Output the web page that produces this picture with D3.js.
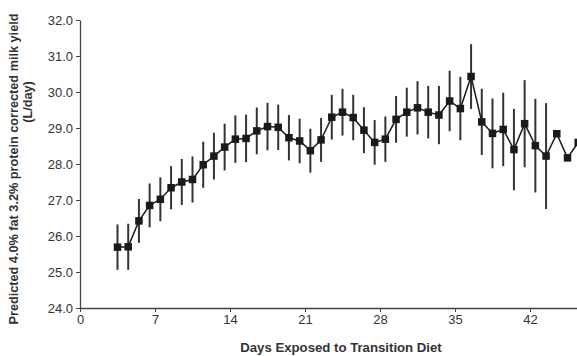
<!DOCTYPE html>
<html>
<head>
<meta charset="utf-8">
<script src="https://cdn.jsdelivr.net/npm/d3@7"></script>
<style>
  body { margin: 0; background: #fff; }
  svg { display: block; font-family: "Liberation Sans", Arial, sans-serif; }
</style>
</head>
<body>
<svg id="chart" width="577" height="356"></svg>
<script>
// day of exposure (each point sits in the middle of its day)
var days = [3,4,5,6,7,8,9,10,11,12,13,14,15,16,17,18,19,20,21,22,23,24,25,26,27,28,29,30,31,32,33,34,35,36,37,38,39,40,41,42,43,44,45,46]
// predicted FPCM yield, L/day
var yieldMeans = [25.69,25.70,26.42,26.85,27.02,27.34,27.50,27.57,27.98,28.22,28.47,28.69,28.71,28.92,29.04,29.02,28.73,28.64,28.37,28.67,
                  29.30,29.44,29.29,28.94,28.60,28.69,29.24,29.44,29.56,29.44,29.36,29.75,29.54,30.43,29.17,28.85,28.96,28.40,29.12,28.51,
                  28.22,28.84,28.17,28.60]
// half length of the error bar (null = no bar drawn)
var yieldErr = [0.63,0.64,0.61,0.61,0.61,0.60,0.64,0.64,0.64,0.65,0.65,0.66,0.66,0.65,0.66,0.63,0.63,0.62,0.61,0.61,
                0.62,0.65,0.63,0.64,0.62,0.63,0.65,0.68,0.74,0.73,0.81,0.84,0.88,0.90,0.92,0.97,1.02,1.13,1.21,1.30,
                1.47,null,null,null]
var xTicks = [0,7,14,21,28,35,42]
var yTicks = [24,25,26,27,28,29,30,31,32]

var data = days.map(function(d, i){ return {day: d, v: yieldMeans[i], e: yieldErr[i]} })

const svg = d3.select('#chart')
const plotLeft = 80, plotTop = 20, plotBottom = 308
const x = d3.scaleLinear().domain([0, 49]).range([plotLeft, plotLeft + 49 * 75 / 7])
const y = d3.scaleLinear().domain([24, 32]).range([plotBottom, plotTop])
const axisColor = '#444'
const textColor = '#333'

// axes
const xAxis = svg.append('g')
  .attr('transform', `translate(0, ${plotBottom})`)
  .call(d3.axisBottom(x).tickValues(xTicks).tickSize(4).tickSizeOuter(0).tickPadding(3))
xAxis.select('.domain').attr('stroke', axisColor).attr('stroke-width', 1.3)
xAxis.selectAll('.tick line').attr('stroke', axisColor)
xAxis.selectAll('text').attr('fill', textColor).style('font-size', '13px')

const yAxis = svg.append('g')
  .attr('transform', `translate(${plotLeft}, 0)`)
  .call(d3.axisLeft(y).tickValues(yTicks).tickFormat(d3.format('.1f')).tickSize(4).tickSizeOuter(0).tickPadding(3))
yAxis.select('.domain').attr('stroke', axisColor).attr('stroke-width', 1.3)
yAxis.selectAll('.tick line').attr('stroke', axisColor)
yAxis.selectAll('text').attr('fill', textColor).style('font-size', '13px')

// error bars
svg.append('g')
  .selectAll('line')
  .data(data.filter(function(d){ return d.e != null }))
  .enter()
  .append('line')
  .attr('x1', d => x(d.day + 0.5))
  .attr('x2', d => x(d.day + 0.5))
  .attr('y1', d => y(d.v + d.e))
  .attr('y2', d => y(d.v - d.e))
  .attr('stroke', '#333')
  .attr('stroke-width', 2)

// the line
const line = d3.line().x(d => x(d.day + 0.5)).y(d => y(d.v))
svg.append('path')
  .datum(data)
  .attr('d', line)
  .attr('fill', 'none')
  .attr('stroke', '#1a1a1a')
  .attr('stroke-width', 1.5)

// square markers
const s = 7.5
svg.append('g')
  .selectAll('rect')
  .data(data)
  .enter()
  .append('rect')
  .attr('x', d => x(d.day + 0.5) - s / 2)
  .attr('y', d => y(d.v) - s / 2)
  .attr('width', s)
  .attr('height', s)
  .attr('fill', '#1a1a1a')

// axis titles
svg.append('text')
  .attr('x', 341)
  .attr('y', 352)
  .attr('text-anchor', 'middle')
  .attr('fill', textColor)
  .style('font-size', '13.2px')
  .style('font-weight', 'bold')
  .text('Days Exposed to Transition Diet')

svg.append('text')
  .attr('transform', 'translate(18, 169) rotate(-90)')
  .attr('text-anchor', 'middle')
  .attr('fill', textColor)
  .style('font-size', '12.7px')
  .style('font-weight', 'bold')
  .text('Predicted 4.0% fat 3.2% protein corrected milk yield')

svg.append('text')
  .attr('transform', 'translate(32, 102) rotate(-90)')
  .attr('text-anchor', 'middle')
  .attr('fill', textColor)
  .style('font-size', '12.7px')
  .style('font-weight', 'bold')
  .text('(L/day)')
</script>
</body>
</html>
